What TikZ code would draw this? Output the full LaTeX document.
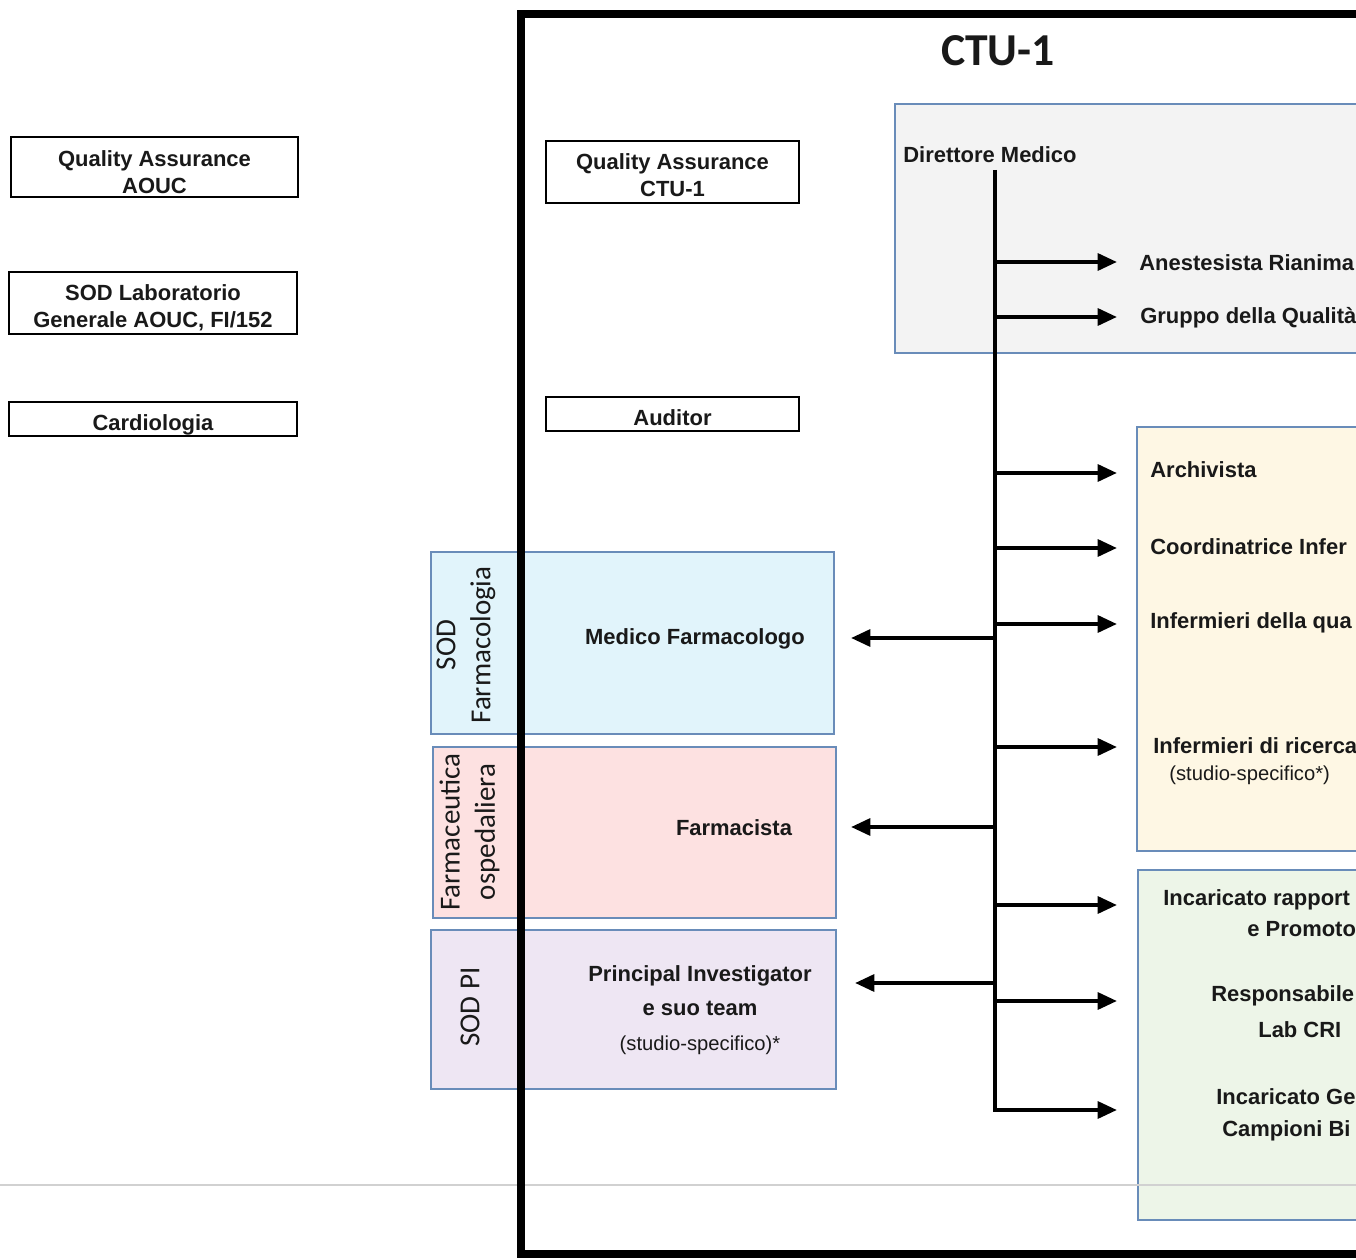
\documentclass[tikz,border=0pt]{standalone}
\usepackage{fontspec}
\setmainfont{Liberation Sans}
\newfontfamily\calib{Carlito}
\usetikzlibrary{arrows.meta}
\definecolor{bord}{RGB}{105,140,185}
\definecolor{grayfill}{RGB}{243,243,243}
\definecolor{yellowfill}{RGB}{254,247,228}
\definecolor{greenfill}{RGB}{237,245,232}
\definecolor{bluefill}{RGB}{225,244,251}
\definecolor{pinkfill}{RGB}{253,225,225}
\definecolor{lavfill}{RGB}{238,230,243}
\definecolor{txt}{RGB}{25,25,25}
\begin{document}
\begin{tikzpicture}[x=0.02cm,y=-0.02cm,
  lbl/.style={font=\fontsize{12.5}{15}\selectfont\bfseries, text=txt, inner sep=0pt, anchor=west},
  regl/.style={font=\fontsize{11.5}{14}\selectfont, text=txt, inner sep=0pt, anchor=west},
  bbox/.style={draw=black, line width=1.1pt, inner sep=0pt},
  btxt/.style={align=center, text=txt, font=\fontsize{12.5}{15.3}\selectfont\bfseries, inner sep=0pt},
  cbox/.style={draw=bord, line width=1pt, inner sep=0pt},
  rotlbl/.style={rotate=90, text=txt, font=\calib\fontsize{16.5}{20}\selectfont, align=center, inner sep=0pt},
  arr/.style={line width=2.3pt, -{Triangle[length=11pt,width=9.5pt]}}]
\useasboundingbox (0,0) rectangle (1356,1260);
\clip (0,0) rectangle (1356,1260);
\fill[white] (0,0) rectangle (1356,1260);

% left external boxes
\node[bbox, minimum width=5.74cm, minimum height=1.2cm] (qaA) at (154.5,167) {};
\node[btxt, yshift=-0.1cm] (qaAt) at (qaA) {Quality Assurance\\AOUC};
\node[bbox, minimum width=5.76cm, minimum height=1.24cm] (lab) at (153,303) {};
\node[btxt, yshift=-0.1cm] (labt) at (lab) {SOD Laboratorio\\Generale AOUC, FI/152};
\node[bbox, minimum width=5.76cm, minimum height=0.68cm] (card) at (153,419) {};
\node[btxt, yshift=-0.12cm] (cardt) at (card) {Cardiologia};

% coloured boxes
\node[cbox, fill=grayfill, minimum width=10.1cm, minimum height=4.98cm] (gray) at (1147.5,228.5) {};
\node[cbox, fill=yellowfill, minimum width=5.26cm, minimum height=8.48cm] (yel) at (1268.5,639) {};
\node[cbox, fill=greenfill, minimum width=5.24cm, minimum height=7.0cm] (grn) at (1269,1045) {};
\node[cbox, fill=bluefill, minimum width=8.06cm, minimum height=3.64cm] (blu) at (632.5,643) {};
\node[cbox, fill=pinkfill, minimum width=8.06cm, minimum height=3.42cm] (pnk) at (634.5,832.5) {};
\node[cbox, fill=lavfill, minimum width=8.1cm, minimum height=3.18cm] (lav) at (633.5,1009.5) {};

% faint horizontal rule
\draw[black!18, line width=1pt] (0,1185) -- (1356,1185);

% CTU frame
\draw[line width=4.6pt] (1500,14) -- (521,14) -- (521,1254) -- (1500,1254);

% title and inner boxes
\node[font=\calib\bfseries\fontsize{26}{30}\selectfont, text=txt] (title) at (998,51) {CTU-1};
\node[bbox, fill=white, minimum width=5.06cm, minimum height=1.24cm] (qaC) at (672.5,172) {};
\node[btxt, yshift=-0.07cm] (qaCt) at (qaC) {Quality Assurance\\CTU-1};
\node[bbox, fill=white, minimum width=5.06cm, minimum height=0.68cm] (aud) at (672.5,414) {};
\node[btxt, yshift=-0.08cm] (audt) at (aud) {Auditor};

% rotated labels
\node[rotlbl] (l1) at (466,645) {SOD\\Farmacologia};
\node[rotlbl] (l2) at (469.5,832) {Farmaceutica\\ospedaliera};
\node[rotlbl] (l3) at (470,1007) {SOD PI};

% left role texts
\node[font=\fontsize{12.5}{15}\selectfont\bfseries, text=txt] (mf) at (695,639) {Medico Farmacologo};
\node[font=\fontsize{12.5}{15}\selectfont\bfseries, text=txt] (fa) at (734,828) {Farmacista};
\node[font=\fontsize{12.5}{19.6}\selectfont\bfseries, text=txt, align=center] (pi) at (700,1010) {Principal Investigator\\e suo team\\{\mdseries\fontsize{11.5}{19.6}\selectfont (studio-specifico)*}};

% director
\node[lbl] (dm) at (903,155) {Direttore Medico};
\coordinate (tk) at (995,170);

% right texts
\node[lbl] (r1) at (1139,263) {Anestesista Rianima};
\node[lbl] (r2) at (1140,318) {Gruppo della Qualità};
\node[lbl] (r3) at (1150,470) {Archivista};
\node[lbl] (r4) at (1150,547) {Coordinatrice Infer};
\node[lbl] (r5) at (1150,623) {Infermieri della qua};
\node[lbl] (r6) at (1153,746) {Infermieri di ricerca};
\node[regl] (r6b) at (1169,775) {(studio-specifico*)};
\node[lbl] (r7) at (1163,900) {Incaricato rapport};
\node[lbl] (r7b) at (1247,929) {e Promoto};
\node[lbl] (r8) at (1211,996) {Responsabile};
\node[lbl] (r8b) at (1258,1030) {Lab CRI};
\node[lbl] (r9) at (1216,1097) {Incaricato Ge};
\node[lbl] (r9b) at (1222,1131) {Campioni Bi};

% arrow end coordinates
\coordinate (a1) at (1117,262);
\coordinate (a2) at (1117,317);
\coordinate (a3) at (1117,473);
\coordinate (a4) at (1117,548);
\coordinate (a5) at (1117,624);
\coordinate (a6) at (1117,747);
\coordinate (a7) at (1117,905);
\coordinate (a8) at (1117,1001);
\coordinate (a9) at (1117,1110);
\coordinate (b1) at (851,638);
\coordinate (b2) at (851,827);
\coordinate (b3) at (855,983);

% trunk and arrows
\draw[arr, line join=miter] (tk) -- (tk |- a9) -- (a9);
\foreach \c in {a1,a2,a3,a4,a5,a6,a7,a8}{
  \draw[arr] (tk |- \c) -- (\c);
}
\foreach \c in {b1,b2,b3}{
  \draw[arr] (tk |- \c) -- (\c);
}
\end{tikzpicture}
\end{document}
